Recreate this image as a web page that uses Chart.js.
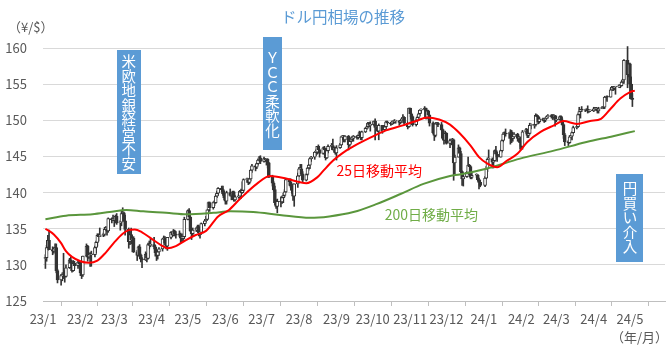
<!DOCTYPE html>
<html>
<head>
<meta charset="utf-8">
<script src="https://cdn.jsdelivr.net/npm/chart.js@4.4.0/dist/chart.umd.min.js"></script>
<style>
  html, body { margin: 0; padding: 0; background: #fff; }
</style>
</head>
<body>
<canvas id="fx" width="670" height="347"></canvas>
<script>
// trading days (yy/m/d), one line per month
const tradeDates = [
  '23/1/3','23/1/4','23/1/5','23/1/6','23/1/9','23/1/10','23/1/11','23/1/12','23/1/13','23/1/16','23/1/17','23/1/18','23/1/19','23/1/20','23/1/23','23/1/24','23/1/25','23/1/26','23/1/27','23/1/30','23/1/31',
  '23/2/1','23/2/2','23/2/3','23/2/6','23/2/7','23/2/8','23/2/9','23/2/10','23/2/13','23/2/14','23/2/15','23/2/16','23/2/17','23/2/20','23/2/21','23/2/22','23/2/23','23/2/24','23/2/27','23/2/28',
  '23/3/1','23/3/2','23/3/3','23/3/6','23/3/7','23/3/8','23/3/9','23/3/10','23/3/13','23/3/14','23/3/15','23/3/16','23/3/17','23/3/20','23/3/21','23/3/22','23/3/23','23/3/24','23/3/27','23/3/28','23/3/29','23/3/30','23/3/31',
  '23/4/3','23/4/4','23/4/5','23/4/6','23/4/7','23/4/10','23/4/11','23/4/12','23/4/13','23/4/14','23/4/17','23/4/18','23/4/19','23/4/20','23/4/21','23/4/24','23/4/25','23/4/26','23/4/27','23/4/28',
  '23/5/1','23/5/2','23/5/3','23/5/4','23/5/5','23/5/8','23/5/9','23/5/10','23/5/11','23/5/12','23/5/15','23/5/16','23/5/17','23/5/18','23/5/19','23/5/22','23/5/23','23/5/24','23/5/25','23/5/26','23/5/29','23/5/30','23/5/31',
  '23/6/1','23/6/2','23/6/5','23/6/6','23/6/7','23/6/8','23/6/9','23/6/12','23/6/13','23/6/14','23/6/15','23/6/16','23/6/19','23/6/20','23/6/21','23/6/22','23/6/23','23/6/26','23/6/27','23/6/28','23/6/29','23/6/30',
  '23/7/3','23/7/4','23/7/5','23/7/6','23/7/7','23/7/10','23/7/11','23/7/12','23/7/13','23/7/14','23/7/17','23/7/18','23/7/19','23/7/20','23/7/21','23/7/24','23/7/25','23/7/26','23/7/27','23/7/28','23/7/31',
  '23/8/1','23/8/2','23/8/3','23/8/4','23/8/7','23/8/8','23/8/9','23/8/10','23/8/11','23/8/14','23/8/15','23/8/16','23/8/17','23/8/18','23/8/21','23/8/22','23/8/23','23/8/24','23/8/25','23/8/28','23/8/29','23/8/30','23/8/31',
  '23/9/1','23/9/4','23/9/5','23/9/6','23/9/7','23/9/8','23/9/11','23/9/12','23/9/13','23/9/14','23/9/15','23/9/18','23/9/19','23/9/20','23/9/21','23/9/22','23/9/25','23/9/26','23/9/27','23/9/28','23/9/29',
  '23/10/2','23/10/3','23/10/4','23/10/5','23/10/6','23/10/9','23/10/10','23/10/11','23/10/12','23/10/13','23/10/16','23/10/17','23/10/18','23/10/19','23/10/20','23/10/23','23/10/24','23/10/25','23/10/26','23/10/27','23/10/30','23/10/31',
  '23/11/1','23/11/2','23/11/3','23/11/6','23/11/7','23/11/8','23/11/9','23/11/10','23/11/13','23/11/14','23/11/15','23/11/16','23/11/17','23/11/20','23/11/21','23/11/22','23/11/23','23/11/24','23/11/27','23/11/28','23/11/29','23/11/30',
  '23/12/1','23/12/4','23/12/5','23/12/6','23/12/7','23/12/8','23/12/11','23/12/12','23/12/13','23/12/14','23/12/15','23/12/18','23/12/19','23/12/20','23/12/21','23/12/22','23/12/26','23/12/27','23/12/28','23/12/29',
  '24/1/2','24/1/3','24/1/4','24/1/5','24/1/8','24/1/9','24/1/10','24/1/11','24/1/12','24/1/15','24/1/16','24/1/17','24/1/18','24/1/19','24/1/22','24/1/23','24/1/24','24/1/25','24/1/26','24/1/29','24/1/30','24/1/31',
  '24/2/1','24/2/2','24/2/5','24/2/6','24/2/7','24/2/8','24/2/9','24/2/12','24/2/13','24/2/14','24/2/15','24/2/16','24/2/19','24/2/20','24/2/21','24/2/22','24/2/23','24/2/26','24/2/27','24/2/28','24/2/29',
  '24/3/1','24/3/4','24/3/5','24/3/6','24/3/7','24/3/8','24/3/11','24/3/12','24/3/13','24/3/14','24/3/15','24/3/18','24/3/19','24/3/20','24/3/21','24/3/22','24/3/25','24/3/26','24/3/27','24/3/28','24/3/29',
  '24/4/1','24/4/2','24/4/3','24/4/4','24/4/5','24/4/8','24/4/9','24/4/10','24/4/11','24/4/12','24/4/15','24/4/16','24/4/17','24/4/18','24/4/19','24/4/22','24/4/23','24/4/24','24/4/25','24/4/26','24/4/29','24/4/30',
  '24/5/1','24/5/2','24/5/3'
];

const opens = [
  130.9,131.0,132.4,133.4,132.1,131.9,132.2,132.4,129.2,127.9,128.5,128.6,128.9,128.4,129.6,130.7,130.2,129.2,130.2,129.9,130.4,
  130.1,128.9,128.6,131.2,132.6,131.1,131.4,131.4,131.4,132.4,133.1,134.1,133.9,134.1,134.2,134.9,134.9,134.7,136.4,136.2,
  136.2,136.1,136.7,135.8,135.9,137.1,137.2,136.1,134.9,133.2,134.2,133.4,133.7,131.8,131.3,132.5,131.4,130.8,130.7,131.5,130.9,132.8,132.7,
  132.8,132.5,131.7,131.3,131.8,132.2,133.6,133.7,133.0,132.6,133.8,134.5,134.1,134.7,134.2,134.1,134.3,133.7,133.7,133.9,
  136.3,137.5,136.6,134.7,134.3,134.8,135.1,135.3,134.4,134.5,135.7,136.1,136.3,137.6,138.6,137.9,138.6,138.6,139.5,139.9,140.6,140.4,139.8,
  139.3,138.8,140.0,139.6,139.6,140.1,139.0,139.4,139.5,140.2,140.0,140.3,141.8,141.8,141.4,141.9,143.1,143.7,143.5,144.0,144.5,144.8,
  144.3,144.7,144.5,144.6,144.1,142.1,141.3,140.4,138.6,138.1,138.8,138.7,139.3,139.6,140.1,141.8,141.5,140.9,140.3,139.5,141.2,
  142.3,143.3,143.3,142.6,141.7,142.5,143.4,143.8,144.7,144.9,145.6,145.6,146.4,145.9,145.4,146.2,145.9,144.8,145.8,146.4,146.5,145.9,146.2,
  145.5,146.2,146.6,147.7,147.7,147.3,147.8,146.6,147.1,147.4,147.5,147.8,147.6,147.9,148.3,147.6,148.4,148.9,149.1,149.6,149.3,
  149.4,149.9,149.0,149.1,148.5,149.3,148.5,148.7,149.1,149.8,149.6,149.5,149.8,149.8,149.9,149.9,149.7,149.9,150.2,150.4,149.6,149.1,
  151.7,150.9,150.5,149.4,150.0,150.4,150.9,151.4,151.5,151.7,150.4,151.3,150.7,149.6,148.3,147.9,149.5,149.6,149.4,148.7,147.5,147.2,
  148.2,146.8,147.2,147.2,147.3,144.1,144.9,146.2,145.4,142.9,141.9,142.2,142.8,143.8,143.6,142.1,142.4,142.4,141.8,141.4,
  141.0,142.0,143.3,144.6,144.6,144.2,144.4,145.8,145.3,144.9,145.8,147.2,148.1,148.2,148.1,148.1,148.4,147.5,147.7,148.1,147.5,147.6,
  146.9,146.4,148.4,148.7,147.9,148.2,149.3,149.3,149.4,150.7,150.5,149.8,150.2,150.0,150.0,150.3,150.5,150.5,150.7,150.5,150.6,
  150.0,150.1,150.5,150.0,149.4,148.0,147.0,146.9,147.7,147.8,148.3,149.0,149.1,150.8,151.2,151.5,151.4,151.4,151.5,151.3,151.3,
  151.3,151.6,151.6,151.6,151.3,151.6,151.8,151.8,153.2,153.3,153.2,154.2,154.6,154.4,154.6,154.6,154.8,154.8,155.3,155.6,158.3,156.3,
  157.8,155.0,153.0
];

const highs = [
  131.4,132.7,134.1,134.8,132.5,132.4,132.9,132.9,129.4,128.7,128.9,131.6,129.2,130.0,130.9,131.1,130.5,130.6,130.5,130.5,130.5,
  130.3,129.1,131.2,132.9,132.7,131.6,131.7,131.9,132.6,133.3,134.3,134.3,135.1,134.4,135.2,135.3,135.0,136.5,136.5,136.9,
  136.3,136.9,137.1,136.1,137.4,137.9,137.3,136.9,135.1,134.6,135.1,133.8,133.9,132.0,132.6,132.8,131.5,131.0,131.8,131.6,133.0,133.3,133.6,
  133.8,132.7,131.9,132.0,132.4,133.6,134.0,133.9,133.3,133.8,134.6,134.6,134.9,134.8,134.6,134.7,134.4,133.9,134.3,136.6,
  137.6,137.8,136.7,134.9,135.1,135.2,135.5,135.5,134.9,135.8,136.3,136.7,137.6,138.7,138.7,138.7,138.9,139.7,140.2,140.7,140.9,140.9,140.2,
  139.5,140.2,140.5,139.9,140.2,140.2,139.6,139.8,140.3,140.5,141.5,141.9,142.0,141.9,142.0,143.2,143.9,143.8,144.1,144.6,145.0,145.1,
  144.9,144.7,144.6,144.7,144.2,142.4,141.5,140.9,139.0,139.1,139.4,139.5,139.9,140.4,141.9,141.9,141.9,141.1,141.2,141.2,142.7,
  143.5,143.9,143.9,142.9,142.6,143.5,143.9,144.8,145.0,145.6,145.9,146.4,146.6,146.0,146.3,146.4,146.1,146.1,146.6,146.8,147.4,146.3,146.3,
  146.5,146.8,147.8,147.9,147.9,147.9,147.9,147.2,147.6,147.8,147.9,147.9,148.0,148.5,148.4,148.5,149.0,149.2,149.7,149.7,149.8,
  149.9,150.2,149.2,149.3,149.5,149.3,148.9,149.3,149.9,149.9,149.7,149.9,149.9,150.1,150.0,150.0,150.0,150.3,150.8,150.5,149.8,151.7,
  151.7,151.0,150.6,150.2,150.6,151.0,151.4,151.6,151.9,151.7,151.4,151.4,150.8,149.8,148.5,149.7,149.7,149.7,149.7,148.8,147.8,148.5,
  148.3,147.4,147.4,147.5,147.4,145.2,146.6,146.3,145.7,143.0,142.5,142.9,144.9,143.9,143.7,142.8,142.6,142.5,142.0,141.7,
  142.2,143.6,144.8,145.9,144.8,144.6,145.9,146.4,145.6,145.9,147.3,148.3,148.4,148.8,148.3,148.7,148.6,147.9,148.3,148.2,147.8,147.7,
  147.2,148.6,148.9,148.8,148.3,149.6,149.5,149.5,150.9,150.8,150.6,150.4,150.3,150.2,150.4,150.6,150.8,150.8,150.8,150.8,150.7,
  150.6,150.6,150.6,150.2,149.5,148.2,147.2,147.9,147.9,148.4,149.2,149.3,150.9,151.8,151.5,151.9,151.5,151.6,152.0,151.4,151.4,
  151.8,151.8,151.8,151.7,151.8,151.9,151.9,153.2,153.3,153.4,154.4,154.7,154.7,154.7,154.7,154.9,154.9,155.4,155.7,158.4,160.2,157.9,
  157.9,156.0,153.7
];

const lows = [
  129.5,130.5,132.0,132.1,131.4,131.6,131.9,128.9,127.5,127.2,127.8,128.1,127.6,128.3,129.5,130.1,129.0,129.1,129.5,129.5,129.8,
  128.5,128.1,128.4,131.1,130.5,130.9,129.8,129.8,131.1,131.6,132.6,133.3,133.9,133.9,134.0,134.6,134.1,134.5,135.8,136.1,
  135.3,135.8,135.6,134.8,135.4,136.8,136.0,134.1,132.3,132.8,132.9,131.8,131.7,130.6,131.2,131.1,130.4,129.6,130.6,130.4,130.8,132.2,132.5,
  132.2,131.2,130.6,130.8,131.3,131.9,133.1,132.8,132.2,132.0,133.6,133.9,134.0,134.0,133.7,133.9,133.0,133.2,133.2,133.6,
  136.2,136.3,134.6,133.5,133.9,134.6,134.8,134.0,133.7,134.2,135.4,135.9,136.2,137.5,137.4,137.7,138.2,138.5,139.3,139.6,140.1,139.6,139.0,
  138.4,138.4,139.5,139.0,139.3,138.8,138.8,139.2,139.2,139.2,139.9,140.1,141.4,141.1,141.2,141.6,142.8,143.0,143.3,143.8,144.2,144.0,
  144.2,144.3,143.8,143.4,142.1,140.9,140.2,138.3,137.8,137.2,138.0,138.5,138.6,139.4,140.0,141.0,140.7,139.9,138.9,138.1,140.7,
  142.2,142.9,142.4,141.5,141.6,142.4,143.1,143.3,144.3,144.6,145.1,145.3,145.7,144.9,145.3,145.6,144.5,144.7,145.5,146.2,145.9,145.6,145.3,
  144.5,146.1,146.5,147.2,147.0,147.0,145.9,146.4,146.8,147.1,147.1,147.4,147.4,147.7,147.3,147.3,148.3,148.7,148.9,149.1,148.5,
  149.3,147.3,148.7,148.4,147.3,148.2,148.4,148.7,148.8,149.4,149.3,149.4,149.5,149.6,149.6,149.3,149.5,149.7,150.1,149.5,148.8,149.0,
  150.2,150.1,149.2,149.2,149.9,150.2,150.6,151.0,151.4,150.2,150.2,150.6,149.2,148.1,147.2,147.7,149.3,149.1,148.6,147.3,146.7,147.2,
  146.7,146.2,146.6,146.9,141.7,142.6,144.9,145.1,142.7,141.0,140.9,142.1,142.5,143.2,141.9,141.9,142.1,141.6,140.5,140.8,
  140.8,141.9,142.9,143.8,143.4,143.4,144.3,144.6,144.3,144.9,145.6,147.0,147.6,147.8,147.5,146.7,146.9,147.1,147.5,147.1,147.0,146.0,
  145.9,146.0,148.2,147.6,147.6,148.1,148.8,148.9,149.2,150.1,149.5,149.6,149.9,149.7,149.8,150.2,150.3,150.3,150.1,150.3,149.2,
  149.8,150.0,149.9,149.3,147.5,146.5,146.5,146.8,147.4,147.3,148.2,148.8,149.0,150.7,150.3,151.2,151.2,151.3,151.0,151.1,151.2,
  151.2,151.4,151.4,151.0,151.0,151.6,151.6,151.6,152.8,152.6,153.2,154.1,154.1,154.2,153.6,154.5,154.5,154.7,155.1,155.1,154.5,156.0,
  153.0,152.9,151.9
];

const closes = [
  131.0,132.4,133.4,132.1,131.9,132.2,132.4,129.2,127.9,128.5,128.6,128.9,128.4,129.6,130.7,130.2,129.2,130.2,129.9,130.4,130.1,
  128.9,128.6,131.2,132.6,131.1,131.4,131.4,131.4,132.4,133.1,134.1,133.9,134.1,134.2,134.9,134.9,134.7,136.4,136.2,136.2,
  136.1,136.7,135.8,135.9,137.1,137.2,136.1,134.9,133.2,134.2,133.4,133.7,131.8,131.3,132.5,131.4,130.8,130.7,131.5,130.9,132.8,132.7,132.8,
  132.5,131.7,131.3,131.8,132.2,133.6,133.7,133.0,132.6,133.8,134.5,134.1,134.7,134.2,134.1,134.3,133.7,133.7,133.9,136.3,
  137.5,136.6,134.7,134.3,134.8,135.1,135.3,134.4,134.5,135.7,136.1,136.3,137.6,138.6,137.9,138.6,138.6,139.5,139.9,140.6,140.4,139.8,139.3,
  138.8,140.0,139.6,139.6,140.1,139.0,139.4,139.5,140.2,140.0,140.3,141.8,141.8,141.4,141.9,143.1,143.7,143.5,144.0,144.5,144.8,144.3,
  144.7,144.5,144.6,144.1,142.1,141.3,140.4,138.6,138.1,138.8,138.7,139.3,139.6,140.1,141.8,141.5,140.9,140.3,139.5,141.2,142.3,
  143.3,143.3,142.6,141.7,142.5,143.4,143.8,144.7,144.9,145.6,145.6,146.4,145.9,145.4,146.2,145.9,144.8,145.8,146.4,146.5,145.9,146.2,145.5,
  146.2,146.6,147.7,147.7,147.3,147.8,146.6,147.1,147.4,147.5,147.8,147.6,147.9,148.3,147.6,148.4,148.9,149.1,149.6,149.3,149.4,
  149.9,149.0,149.1,148.5,149.3,148.5,148.7,149.1,149.8,149.6,149.5,149.8,149.8,149.9,149.9,149.7,149.9,150.2,150.4,149.6,149.1,151.7,
  150.9,150.5,149.4,150.0,150.4,150.9,151.4,151.5,151.7,150.4,151.3,150.7,149.6,148.3,147.9,149.5,149.6,149.4,148.7,147.5,147.2,148.2,
  146.8,147.2,147.2,147.3,144.1,144.9,146.2,145.4,142.9,141.9,142.2,142.8,143.8,143.6,142.1,142.4,142.4,141.8,141.4,141.0,
  142.0,143.3,144.6,144.6,144.2,144.4,145.8,145.3,144.9,145.8,147.2,148.1,148.2,148.1,148.1,148.4,147.5,147.7,148.1,147.5,147.6,146.9,
  146.4,148.4,148.7,147.9,148.2,149.3,149.3,149.4,150.7,150.5,149.8,150.2,150.0,150.0,150.3,150.5,150.5,150.7,150.5,150.6,150.0,
  150.1,150.5,150.0,149.4,148.0,147.0,146.9,147.7,147.8,148.3,149.0,149.1,150.8,151.2,151.5,151.4,151.4,151.5,151.3,151.3,151.3,
  151.6,151.6,151.6,151.3,151.6,151.8,151.8,153.2,153.3,153.2,154.2,154.6,154.4,154.6,154.6,154.8,154.8,155.3,155.6,158.3,156.3,157.8,
  155.0,153.0,152.9
];

// moving averages
const ma25Dates = ['23/1/3','23/1/10','23/1/16','23/1/20','23/1/25','23/2/1','23/2/8','23/2/15','23/2/22','23/3/1','23/3/8','23/3/13','23/3/18','23/3/24','23/4/1','23/4/10','23/4/14','23/4/21','23/4/29','23/5/7','23/5/16','23/5/26','23/6/4','23/6/13','23/6/27','23/7/8','23/7/22','23/8/7','23/8/16','23/8/21','23/8/29','23/9/9','23/9/15','23/9/29','23/10/12','23/10/26','23/11/6','23/11/15','23/11/25','23/12/4','23/12/12','23/12/21','23/12/28','24/1/4','24/1/12','24/1/20','24/1/29','24/2/6','24/2/17','24/2/28','24/3/7','24/3/18','24/3/29','24/4/7','24/4/15','24/4/23','24/5/1','24/5/5'];
const ma25 = [135.0,134.2,133.0,131.9,131.1,130.5,130.3,130.6,131.7,133.1,134.3,134.8,134.9,134.5,133.6,132.6,132.3,132.6,133.4,134.1,134.7,136.7,137.6,139.1,141.2,142.3,141.9,141.3,142.1,143.0,144.4,145.8,146.4,147.6,148.6,149.3,149.9,150.4,150.1,149.4,148.2,146.5,144.9,144.0,143.5,144.4,145.4,147.0,148.4,149.3,149.9,149.5,149.9,150.2,151.6,153.0,153.9,154.1];

const ma200Dates = ['23/1/3','23/1/20','23/2/11','23/2/25','23/3/11','23/3/25','23/4/13','23/4/30','23/5/22','23/6/5','23/6/24','23/7/16','23/8/10','23/8/26','23/9/15','23/10/4','23/10/24','23/11/12','23/12/4','23/12/12','24/1/3','24/1/31','24/2/28','24/3/26','24/4/17','24/5/5'];
const ma200 = [136.3,136.8,137.0,137.3,137.6,137.4,137.2,137.0,137.2,137.4,137.3,136.9,136.5,136.7,137.3,138.4,139.8,141.2,142.3,142.5,143.3,144.7,145.8,147.0,147.8,148.5];

const monthStarts = ['23/1/1','23/2/1','23/3/1','23/4/1','23/5/1','23/6/1','23/7/1','23/8/1','23/9/1','23/10/1','23/11/1','23/12/1','24/1/1','24/2/1','24/3/1','24/4/1','24/5/1'];
const monthLabels = ['23/1','23/2','23/3','23/4','23/5','23/6','23/7','23/8','23/9','23/10','23/11','23/12','24/1','24/2','24/3','24/4','24/5'];

// days since 2023-01-01
const dayOf = s => {
  const [y, m, d] = s.split('/').map(Number);
  return (Date.UTC(2000 + y, m - 1, d) - Date.UTC(2023, 0, 1)) / 864e5;
};

const FONT = "'Noto Sans CJK JP', 'Noto Sans', sans-serif";
const INK = '#333333';

const notes = [
  { text: '米欧地銀経営不安', date: '23/3/13', top: 159.7, bottom: 142.5, w: 24 },
  { text: 'ＹＣＣ柔軟化', date: '23/7/10', top: 161.5, bottom: 145.8, w: 19 },
  { text: '円買い介入', date: '24/5/1', top: 142.6, bottom: 130.4, w: 27 }
];

const decor = {
  id: 'decor',
  afterDatasetsDraw(chart) {
    const { ctx, scales: { x, y } } = chart;
    ctx.save();
    ctx.textBaseline = 'middle';

    ctx.fillStyle = '#5B9BD5';
    ctx.textAlign = 'center';
    ctx.font = '15.5px ' + FONT;
    ctx.fillText('ドル円相場の推移', 343, 17);

    ctx.fillStyle = '#595959';
    ctx.font = '13px ' + FONT;
    ctx.textAlign = 'left';
    ctx.fillText('（¥/$）', 8, 27);
    ctx.textAlign = 'right';
    ctx.fillText('（年/月）', 668, 337);

    ctx.font = '14px ' + FONT;
    ctx.textAlign = 'left';
    ctx.fillStyle = '#FF0000';
    ctx.fillText('25日移動平均', x.getPixelForValue(dayOf('23/9/1')), y.getPixelForValue(143.05));
    ctx.fillStyle = '#70AD47';
    ctx.fillText('200日移動平均', x.getPixelForValue(dayOf('23/10/11')), y.getPixelForValue(136.9));

    ctx.textAlign = 'center';
    notes.forEach(n => {
      const cx = x.getPixelForValue(dayOf(n.date));
      const top = y.getPixelForValue(n.top);
      const bottom = y.getPixelForValue(n.bottom);
      ctx.fillStyle = '#5B9BD5';
      ctx.fillRect(Math.round(cx - n.w / 2), Math.round(top), n.w, Math.round(bottom - top));
      ctx.fillStyle = '#FFFFFF';
      ctx.font = '14.5px ' + FONT;
      const chars = [...n.text];
      const step = 14.5;
      const start = (top + bottom) / 2 - (chars.length * step) / 2;
      chars.forEach((c, i) => ctx.fillText(c, cx, start + step * i + step / 2));
    });
    ctx.restore();
  }
};

const candleX = tradeDates.map(dayOf);

new Chart(document.getElementById('fx'), {
  type: 'bar',
  data: {
    datasets: [
      {
        type: 'line',
        label: '25日移動平均',
        data: ma25Dates.map((d, i) => ({ x: dayOf(d), y: ma25[i] })),
        borderColor: '#FF0000',
        borderWidth: 2,
        pointRadius: 0,
        cubicInterpolationMode: 'monotone',
        order: 0
      },
      {
        type: 'line',
        label: '200日移動平均',
        data: ma200Dates.map((d, i) => ({ x: dayOf(d), y: ma200[i] })),
        borderColor: '#5A963C',
        borderWidth: 2,
        pointRadius: 0,
        cubicInterpolationMode: 'monotone',
        order: 1
      },
      {
        label: 'body',
        data: candleX.map((v, i) => ({ x: v, y: [opens[i], closes[i]] })),
        backgroundColor: closes.map((c, i) => c >= opens[i] ? '#FFFFFF' : INK),
        borderColor: INK,
        borderWidth: 1,
        borderSkipped: false,
        barThickness: 3,
        minBarLength: 1,
        grouped: false,
        order: 2
      },
      {
        label: 'wick',
        data: candleX.map((v, i) => ({ x: v, y: [lows[i], highs[i]] })),
        backgroundColor: INK,
        barThickness: 1,
        grouped: false,
        clip: false,
        order: 3
      }
    ]
  },
  options: {
    responsive: false,
    animation: false,
    devicePixelRatio: 1,
    layout: { padding: { top: 48, right: 5, left: 0, bottom: 0 } },
    plugins: {
      legend: { display: false },
      tooltip: { enabled: false }
    },
    scales: {
      x: {
        type: 'linear',
        min: 0,
        max: 515,
        offset: false,
        afterBuildTicks: s => { s.ticks = monthStarts.map(d => ({ value: dayOf(d) })); },
        afterFit: s => { s.height = 46; },
        grid: { drawOnChartArea: false, drawTicks: true, tickLength: 5, color: '#BFBFBF' },
        border: { color: '#BFBFBF' },
        ticks: {
          autoSkip: false,
          maxRotation: 0,
          padding: 5,
          color: '#595959',
          font: { family: FONT, size: 13 },
          callback: (v, i) => monthLabels[i]
        }
      },
      y: {
        min: 125,
        max: 160,
        afterFit: s => { s.width = 43; },
        grid: { color: '#D9D9D9', drawTicks: false },
        border: { display: false },
        ticks: { stepSize: 5, padding: 16, color: '#595959', font: { family: FONT, size: 13 } }
      }
    }
  },
  plugins: [decor]
});
</script>
</body>
</html>
